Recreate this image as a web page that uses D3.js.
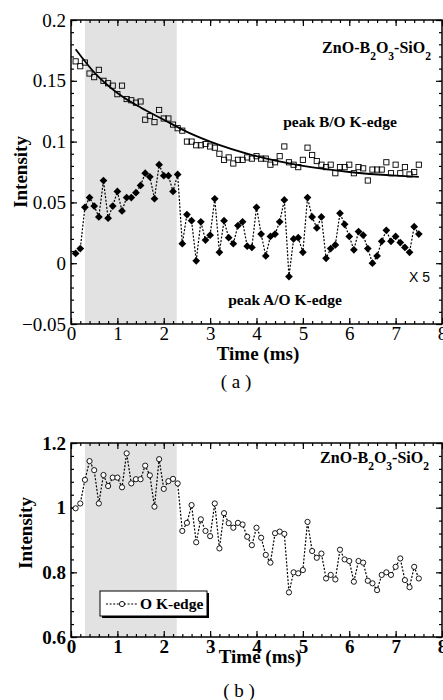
<!DOCTYPE html>
<html>
<head>
<meta charset="utf-8">
<script src="https://cdn.jsdelivr.net/npm/d3@7"></script>
<style>
  body { margin: 0; background: #fff; }
  svg { display: block; }
</style>
</head>
<body>
<svg id="chart" width="443" height="700"></svg>
<script>
// sample times (ms), shared by all three series
const times = [0.1, 0.2, 0.3, 0.4, 0.5, 0.6, 0.7, 0.8, 0.9, 1.0,
  1.1, 1.2, 1.3, 1.4, 1.5, 1.6, 1.7, 1.8, 1.9, 2.0,
  2.1, 2.2, 2.3, 2.4, 2.5, 2.6, 2.7, 2.8, 2.9, 3.0,
  3.1, 3.2, 3.3, 3.4, 3.5, 3.6, 3.7, 3.8, 3.9, 4.0,
  4.1, 4.2, 4.3, 4.4, 4.5, 4.6, 4.7, 4.8, 4.9, 5.0,
  5.1, 5.2, 5.3, 5.4, 5.5, 5.6, 5.7, 5.8, 5.9, 6.0,
  6.1, 6.2, 6.3, 6.4, 6.5, 6.6, 6.7, 6.8, 6.9, 7.0,
  7.1, 7.2, 7.3, 7.4, 7.5];

// (a) peak B/O K-edge, open squares
const peakB = [0.166, 0.162, 0.165, 0.156, 0.153, 0.159, 0.150, 0.148, 0.146, 0.139,
  0.146, 0.135, 0.134, 0.132, 0.133, 0.118, 0.121, 0.116, 0.126, 0.119,
  0.119, 0.114, 0.111, 0.109, 0.100, 0.100, 0.097, 0.097, 0.098, 0.096,
  0.095, 0.090, 0.085, 0.087, 0.082, 0.085, 0.085, 0.087, 0.086, 0.088,
  0.086, 0.086, 0.081, 0.083, 0.088, 0.096, 0.083, 0.081, 0.079, 0.085,
  0.095, 0.089, 0.084, 0.081, 0.079, 0.081, 0.074, 0.079, 0.079, 0.081,
  0.074, 0.079, 0.078, 0.068, 0.077, 0.077, 0.077, 0.083, 0.074, 0.081,
  0.074, 0.079, 0.073, 0.075, 0.081];

// (a) fitted decay for peak B
const fitTimes = [0.1, 0.5, 1.0, 1.5, 2.0, 2.5, 3.0, 4.0, 5.0, 6.0, 7.0, 7.5];
const fitValues = [0.176, 0.157, 0.140, 0.128, 0.118, 0.108, 0.100, 0.088, 0.080, 0.075, 0.072, 0.071];

// (a) peak A/O K-edge (x5), filled diamonds
const peakA = [0.008, 0.012, 0.046, 0.054, 0.047, 0.038, 0.068, 0.037, 0.047, 0.059,
  0.043, 0.054, 0.054, 0.058, 0.064, 0.074, 0.071, 0.053, 0.081, 0.072,
  0.072, 0.059, 0.073, 0.016, 0.040, 0.035, 0.002, 0.034, 0.019, 0.023,
  0.053, 0.009, 0.035, 0.021, 0.016, 0.031, 0.034, 0.014, 0.013, 0.046,
  0.024, 0.006, 0.022, 0.024, 0.034, 0.052, -0.011, 0.020, 0.021, 0.009,
  0.054, 0.038, 0.029, 0.038, 0.004, 0.012, 0.015, 0.041, 0.032, 0.022,
  0.011, 0.026, 0.023, 0.012, 0.000, 0.006, 0.018, 0.027, 0.018, 0.022,
  0.017, 0.013, 0.009, 0.030, 0.024];

// (b) O K-edge, open circles
const oEdge = [0.998, 1.013, 1.086, 1.144, 1.116, 1.013, 1.101, 1.067, 1.093, 1.093,
  1.063, 1.168, 1.075, 1.088, 1.088, 1.130, 1.100, 1.003, 1.150, 1.058,
  1.082, 1.089, 1.075, 0.928, 0.953, 1.008, 0.893, 0.964, 0.928, 0.912,
  1.013, 0.874, 0.983, 0.952, 0.938, 0.953, 0.948, 0.910, 0.884, 0.938,
  0.907, 0.854, 0.830, 0.921, 0.926, 0.919, 0.738, 0.800, 0.797, 0.807,
  0.956, 0.866, 0.845, 0.858, 0.781, 0.792, 0.778, 0.870, 0.840, 0.835,
  0.771, 0.835, 0.830, 0.774, 0.766, 0.745, 0.792, 0.800, 0.792, 0.817,
  0.843, 0.776, 0.754, 0.817, 0.781];

const xTicks = [0, 1, 2, 3, 4, 5, 6, 7, 8];
const yTicksA = [-0.05, 0, 0.05, 0.1, 0.15, 0.2];
const yTicksB = [0.6, 0.8, 1, 1.2];
const shade = [0.3, 2.28];   // shaded time window (ms)

const serif = '"Liberation Serif", "Times New Roman", serif';
const svg = d3.select('#chart');

const x = d3.scaleLinear().domain([0, 8]).range([71, 442]);

function panel(opts) {
  const { y, yTicks, yMinor, bold, fmt } = opts;
  const [top, bottom] = [y.range()[1], y.range()[0]];
  const g = svg.append('g');

  // shaded window
  g.append('rect')
    .attr('x', x(shade[0])).attr('width', x(shade[1]) - x(shade[0]))
    .attr('y', top).attr('height', bottom - top)
    .attr('fill', '#e2e2e2');

  const weight = bold ? 'bold' : 'normal';
  const style = sel => {
    sel.select('.domain').remove();
    sel.selectAll('line').attr('stroke', '#000').attr('stroke-width', 1.2);
    sel.selectAll('text').attr('font-family', serif).attr('font-size', 19)
      .attr('font-weight', weight).attr('fill', '#000');
  };

  const minorX = d3.range(0, 8.001, 0.2);
  // bottom / top x axes
  g.append('g').attr('transform', `translate(0,${bottom})`)
    .call(d3.axisBottom(x).tickValues(minorX).tickSize(-3).tickFormat('')).call(style);
  g.append('g').attr('transform', `translate(0,${bottom})`)
    .call(d3.axisBottom(x).tickValues(xTicks).tickSize(-6).tickPadding(2).tickFormat(d3.format('d'))).call(style);
  g.append('g').attr('transform', `translate(0,${top})`)
    .call(d3.axisTop(x).tickValues(minorX).tickSize(-3).tickFormat('')).call(style);
  g.append('g').attr('transform', `translate(0,${top})`)
    .call(d3.axisTop(x).tickValues(xTicks).tickSize(-6).tickFormat('')).call(style);

  // left / right y axes
  g.append('g').attr('transform', `translate(${x(0)},0)`)
    .call(d3.axisLeft(y).tickValues(yMinor).tickSize(-3).tickFormat('')).call(style);
  g.append('g').attr('transform', `translate(${x(0)},0)`)
    .call(d3.axisLeft(y).tickValues(yTicks).tickSize(-6).tickPadding(5).tickFormat(fmt)).call(style);
  g.append('g').attr('transform', `translate(${x(8)},0)`)
    .call(d3.axisRight(y).tickValues(yMinor).tickSize(-3).tickFormat('')).call(style);
  g.append('g').attr('transform', `translate(${x(8)},0)`)
    .call(d3.axisRight(y).tickValues(yTicks).tickSize(-6).tickFormat('')).call(style);

  // frame
  g.append('rect')
    .attr('x', x(0)).attr('y', top)
    .attr('width', x(8) - x(0)).attr('height', bottom - top)
    .attr('fill', 'none').attr('stroke', '#000').attr('stroke-width', 1.5);

  return g;
}

function label(g, px, py, text, size, weight, anchor, family) {
  return g.append('text').attr('x', px).attr('y', py)
    .attr('font-family', family || serif).attr('font-size', size)
    .attr('font-weight', weight || 'bold').attr('text-anchor', anchor || 'start')
    .attr('fill', '#000').text(text);
}

function formula(g, px, py, size) {
  const t = g.append('text').attr('x', px).attr('y', py)
    .attr('font-family', serif).attr('font-size', size).attr('font-weight', 'bold')
    .attr('text-anchor', 'end').attr('fill', '#000');
  const parts = [['ZnO-B', 0], ['2', 1], ['O', 0], ['3', 1], ['-SiO', 0], ['2', 1]];
  let prev = 0;
  parts.forEach(([s, sub]) => {
    t.append('tspan').attr('dy', (sub - prev) * size * 0.45)
      .attr('font-size', sub ? size * 0.72 : size).text(s);
    prev = sub;
  });
}

// ---------- panel (a) ----------
const yA = d3.scaleLinear().domain([-0.05, 0.2]).range([324, 20]);
const gA = panel({
  y: yA, yTicks: yTicksA, yMinor: d3.range(-0.05, 0.2001, 0.01), bold: false,
  fmt: d => d === 0 ? '0' : d3.format('')(+d.toFixed(2))
});

const lineA = d3.line().x(d => x(d[0])).y(d => yA(d[1]));
const ptsA = times.map((t, i) => [t, peakA[i]]);
gA.append('path').datum(ptsA).attr('d', lineA)
  .attr('fill', 'none').attr('stroke', '#000').attr('stroke-width', 1.2)
  .attr('stroke-dasharray', '2,1.6');
gA.selectAll('.dia').data(ptsA).enter().append('path')
  .attr('d', d3.symbol(d3.symbolSquare).size(30))
  .attr('transform', d => `translate(${x(d[0])},${yA(d[1])}) rotate(45)`)
  .attr('fill', '#000');

const fitPts = fitTimes.map((t, i) => [t, fitValues[i]]);
gA.append('path').datum(fitPts)
  .attr('d', d3.line().x(d => x(d[0])).y(d => yA(d[1])).curve(d3.curveMonotoneX))
  .attr('fill', 'none').attr('stroke', '#000').attr('stroke-width', 1.8);

gA.selectAll('.sq').data(times.map((t, i) => [t, peakB[i]])).enter().append('rect')
  .attr('x', d => x(d[0]) - 2.6).attr('y', d => yA(d[1]) - 2.6)
  .attr('width', 5.2).attr('height', 5.2)
  .attr('fill', 'none').attr('stroke', '#000').attr('stroke-width', 0.9);

formula(gA, 431, 53, 16);
label(gA, 340, 127, 'peak B/O K-edge', 15.5, 'bold', 'middle');
label(gA, 285, 305, 'peak A/O K-edge', 15.5, 'bold', 'middle');
label(gA, 430, 282, 'X 5', 14, 'normal', 'end', '"Liberation Sans", Arial, sans-serif');
label(gA, 258, 360, 'Time (ms)', 19, 'bold', 'middle');
label(gA, 0, 0, 'Intensity', 19, 'bold', 'middle')
  .attr('transform', 'translate(27,172) rotate(-90)');
label(gA, 236, 388, '( a )', 19, 'normal', 'middle');

// ---------- panel (b) ----------
const yB = d3.scaleLinear().domain([0.6, 1.2]).range([637, 443]);
const gB = panel({
  y: yB, yTicks: yTicksB, yMinor: d3.range(0.6, 1.2001, 0.04), bold: true,
  fmt: d => d3.format('')(+d.toFixed(1))
});

const ptsB = times.map((t, i) => [t, oEdge[i]]);
gB.append('path').datum(ptsB).attr('d', d3.line().x(d => x(d[0])).y(d => yB(d[1])))
  .attr('fill', 'none').attr('stroke', '#000').attr('stroke-width', 1.2)
  .attr('stroke-dasharray', '2,1.6');
gB.selectAll('.circ').data(ptsB).enter().append('circle')
  .attr('cx', d => x(d[0])).attr('cy', d => yB(d[1])).attr('r', 2.6)
  .attr('fill', '#fff').attr('stroke', '#000').attr('stroke-width', 0.9);

formula(gB, 429, 463, 16);

// legend
const lg = gB.append('g');
lg.append('rect').attr('x', 102).attr('y', 593).attr('width', 107).attr('height', 25).attr('fill', '#000');
lg.append('rect').attr('x', 100).attr('y', 591).attr('width', 107).attr('height', 25)
  .attr('fill', '#fff').attr('stroke', '#000').attr('stroke-width', 1);
lg.append('line').attr('x1', 106).attr('x2', 138).attr('y1', 604).attr('y2', 604)
  .attr('stroke', '#000').attr('stroke-width', 1.2).attr('stroke-dasharray', '2,1.6');
lg.append('circle').attr('cx', 122).attr('cy', 604).attr('r', 2.6)
  .attr('fill', '#fff').attr('stroke', '#000').attr('stroke-width', 0.9);
label(lg, 140, 609, 'O K-edge', 15.5, 'bold');

label(gB, 260, 663, 'Time (ms)', 19, 'bold', 'middle');
label(gB, 0, 0, 'Intensity', 19, 'bold', 'middle')
  .attr('transform', 'translate(32,533) rotate(-90)');
label(gB, 239, 697, '( b )', 19, 'normal', 'middle');
</script>
</body>
</html>
